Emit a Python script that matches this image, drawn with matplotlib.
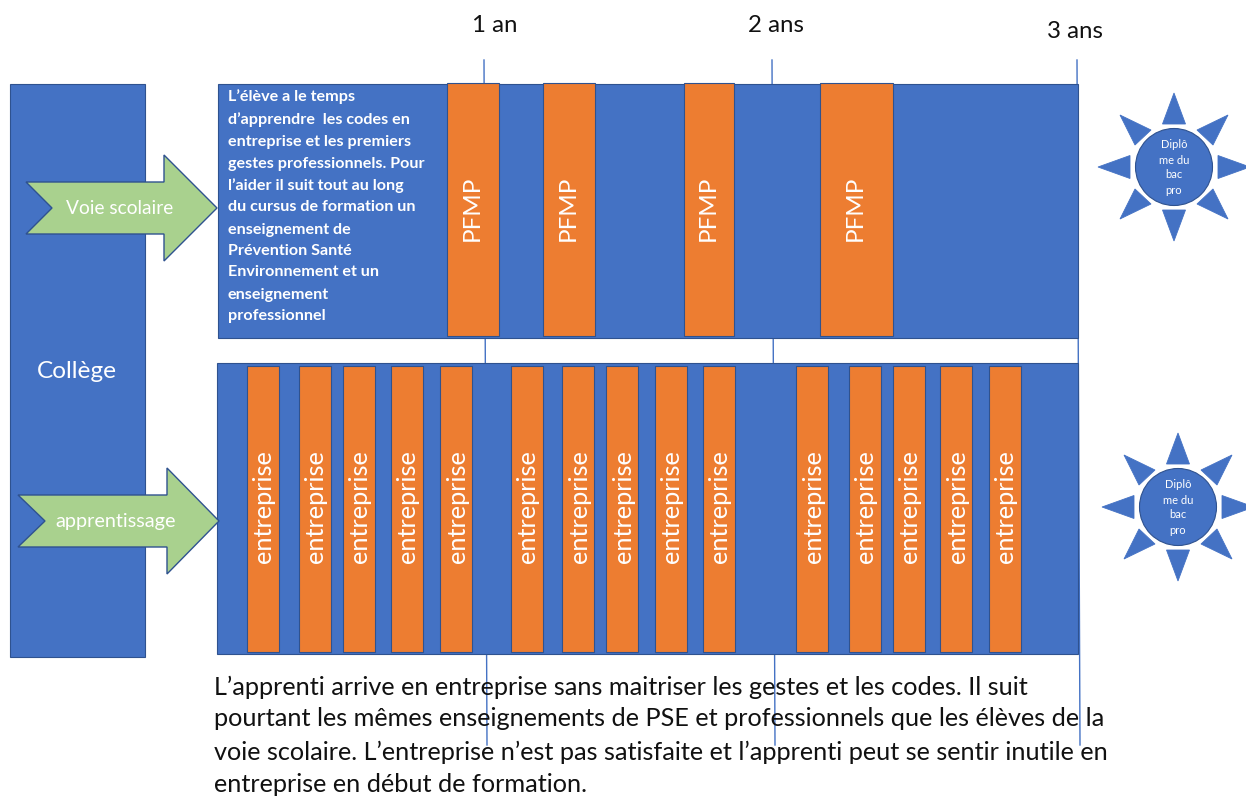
import matplotlib
matplotlib.use('Agg')
import matplotlib.pyplot as plt
from matplotlib.patches import Rectangle, Polygon, Circle

plt.rcParams['font.family'] = ['Lato', 'DejaVu Sans']

BLUE = '#4472C4'
EDGE = '#2F528F'
ORANGE = '#ED7D31'
GREEN = '#A9D18E'
LINE = '#4472C4'

# labels
year_labels = ['1 an', '2 ans', '3 ans']
college_label = 'Collège'
scolaire_label = 'Voie scolaire'
apprenti_label = 'apprentissage'
pfmp_label = 'PFMP'
entreprise_label = 'entreprise'
sun_lines = ['Diplô', 'me du', 'bac', 'pro']
left_text = ['L’élève a le temps', 'd’apprendre  les codes en', 'entreprise et les premiers',
             'gestes professionnels. Pour', 'l’aider il suit tout au long',
             'du cursus de formation un', 'enseignement de', 'Prévention Santé',
             'Environnement et un', 'enseignement', 'professionnel']
bottom_text = ['L’apprenti arrive en entreprise sans maitriser les gestes et les codes. Il suit',
               'pourtant les mêmes enseignements de PSE et professionnels que les élèves de la',
               'voie scolaire. L’entreprise n’est pas satisfaite et l’apprenti peut se sentir inutile en',
               'entreprise en début de formation.']

# x position of the blocks (left, right)
pfmp_blocks = [(447, 499), (543, 595), (684, 734), (820, 893)]
ent_blocks = [(247, 279), (299, 331), (343, 375), (391, 423), (440, 472),
              (511, 543), (562, 594), (606, 638), (655, 687), (703, 735),
              (796, 828), (849, 881), (893, 925), (940, 972), (989, 1021)]

fig = plt.figure(figsize=(12.46, 7.96), dpi=100)
ax = fig.add_axes([0, 0, 1, 1])
ax.set_xlim(0, 1246)
ax.set_ylim(796, 0)
ax.axis('off')


def box(x0, y0, x1, y1, color=BLUE, z=2):
    ax.add_patch(Rectangle((x0, y0), x1 - x0, y1 - y0, fc=color, ec=EDGE, lw=0.8, zorder=z))


def arrow(x0, notch, neck, tip, yc, half, head):
    pts = [(x0, yc - half), (neck, yc - half), (neck, yc - head), (tip, yc), (neck, yc + head),
           (neck, yc + half), (x0, yc + half), (notch, yc)]
    ax.add_patch(Polygon(pts, closed=True, fc=GREEN, ec=EDGE, lw=1.0, zorder=4))


def sun(cx, cy):
    ax.add_patch(Circle((cx, cy), 38.5, fc=BLUE, ec=EDGE, lw=0.8, zorder=3))
    rays = [[(0, -74), (-11.5, -43), (11.5, -43)],
            [(0, 74), (-11.5, 43), (11.5, 43)],
            [(-76, 0), (-44, -11.5), (-44, 11.5)],
            [(76, 0), (44, -11.5), (44, 11.5)],
            [(54, -52), (23, -37), (39, -22)],
            [(-54, -52), (-23, -37), (-39, -22)],
            [(54, 52), (23, 37), (39, 22)],
            [(-54, 52), (-23, 37), (-39, 22)]]
    for r in rays:
        ax.add_patch(Polygon([(cx + a, cy + b) for a, b in r], closed=True, fc=BLUE, ec=BLUE, lw=0.6, zorder=3))
    for line, dy in zip(sun_lines, [-22, -6, 8, 23]):
        ax.text(cx, cy + dy, line, color='white', fontsize=8, ha='center', va='center', zorder=5)


# year lines
for x0, x1, y0, y1 in [(484, 487, 60, 745), (772, 775, 60, 745), (1077, 1080, 60, 745)]:
    ax.plot([x0, x1], [y0, y1], color=LINE, lw=1.0, zorder=1)
for x, y, s in zip([495, 776, 1075], [26, 26, 31], year_labels):
    ax.text(x, y, s, fontsize=17.3, color='#111111', ha='center', va='center')

# big panels
box(10, 84, 145, 657)
box(218, 84, 1078, 338)
box(217, 363, 1078, 654)
ax.text(77, 372, college_label, color='white', fontsize=17.6, ha='center', va='center', zorder=5)

for x0, x1 in pfmp_blocks:
    box(x0, 83, x1, 336, ORANGE, 3)
    ax.text((x0 + x1) / 2 - 1, 208, pfmp_label, color='white', fontsize=17.4, rotation=90,
            ha='center', va='center', zorder=5)
for x0, x1 in ent_blocks:
    box(x0, 366, x1, 652, ORANGE, 3)
    ax.text((x0 + x1) / 2 + 1, 507, entreprise_label, color='white', fontsize=18.3, rotation=90,
            ha='center', va='center', zorder=5)

arrow(26, 52, 164, 217, 208, 26, 53)
ax.text(120, 209, scolaire_label, color='white', fontsize=13.8, ha='center', va='center', zorder=5)
arrow(18, 45, 167, 219, 521, 26, 53)
ax.text(116, 522, apprenti_label, color='white', fontsize=14.3, ha='center', va='center', zorder=5)

for s, y in zip(left_text, [97, 120, 142, 164, 186, 207, 230, 251, 272, 295, 316]):
    ax.text(228, y, s, color='white', fontsize=11.6, fontweight='bold', ha='left', va='center', zorder=5)

for s, y in zip(bottom_text, [687, 719, 752, 785]):
    ax.text(214, y, s, color='#111111', fontsize=18.2, ha='left', va='center', zorder=6)

sun(1174, 167)
sun(1178, 507)

fig.savefig('out.png', dpi=100)
